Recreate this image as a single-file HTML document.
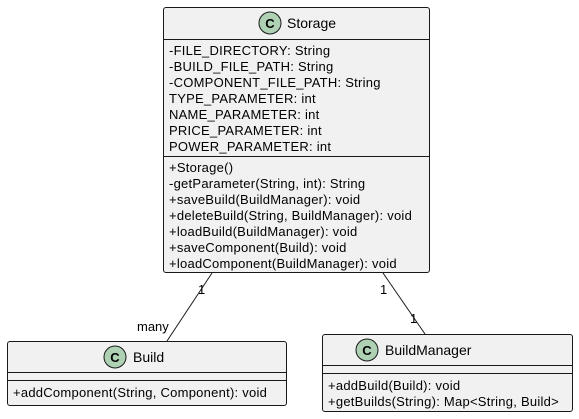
<!DOCTYPE html>
<html><head><style>body{margin:0;background:#fff}svg{display:block}</style></head><body>
<svg width="579" height="419" xmlns="http://www.w3.org/2000/svg" font-family="Liberation Sans, sans-serif" font-size="13" fill="#000">
<g stroke="#181818" stroke-width="1" fill="#F1F1F1">
<rect x="163.5" y="7.5" width="266" height="265" rx="2.5"/>
<rect x="7.5" y="341.5" width="279" height="64" rx="2.5"/>
<rect x="322.5" y="334.5" width="250" height="77" rx="2.5"/>
</g>
<g stroke="#181818" stroke-width="1">
<line x1="163.5" y1="39.5" x2="429.5" y2="39.5"/>
<line x1="163.5" y1="156.5" x2="429.5" y2="156.5"/>
<line x1="7.5" y1="372.5" x2="286.5" y2="372.5"/>
<line x1="7.5" y1="380.5" x2="286.5" y2="380.5"/>
<line x1="322.5" y1="365.5" x2="572.5" y2="365.5"/>
<line x1="322.5" y1="373.5" x2="572.5" y2="373.5"/>
<line x1="212" y1="273" x2="167" y2="341"/>
<line x1="383" y1="273" x2="425" y2="334"/>
</g>
<g fill="#ADD1B2" stroke="#181818">
<circle cx="270" cy="23" r="11"/>
<circle cx="115" cy="357" r="11"/>
<circle cx="367" cy="350" r="11"/>
</g>
<g font-weight="bold" font-size="13" text-anchor="middle">
<text x="270" y="28">C</text><text x="115" y="362">C</text><text x="367" y="355">C</text>
</g>
<text x="287" y="28" font-size="14">Storage</text>
<text x="133" y="362" font-size="14">Build</text>
<text x="385" y="355" font-size="14">BuildManager</text>
<g letter-spacing="0.25">
<text x="169" y="55">-FILE_DIRECTORY: String</text>
<text x="169" y="71">-BUILD_FILE_PATH: String</text>
<text x="169" y="87">-COMPONENT_FILE_PATH: String</text>
<text x="169" y="103">TYPE_PARAMETER: int</text>
<text x="169" y="119">NAME_PARAMETER: int</text>
<text x="169" y="135">PRICE_PARAMETER: int</text>
<text x="169" y="151">POWER_PARAMETER: int</text>
<text x="169" y="172">+Storage()</text>
<text x="169" y="188">-getParameter(String, int): String</text>
<text x="169" y="204">+saveBuild(BuildManager): void</text>
<text x="169" y="220">+deleteBuild(String, BuildManager): void</text>
<text x="169" y="236">+loadBuild(BuildManager): void</text>
<text x="169" y="252">+saveComponent(Build): void</text>
<text x="169" y="268">+loadComponent(BuildManager): void</text>
<text x="13" y="397">+addComponent(String, Component): void</text>
<text x="328" y="390">+addBuild(Build): void</text>
<text x="328" y="406">+getBuilds(String): Map&lt;String, Build&gt;</text>
</g>
<text x="198" y="294">1</text>
<text x="137" y="331">many</text>
<text x="380" y="294">1</text>
<text x="410" y="323">1</text>
</svg>
</body></html>
